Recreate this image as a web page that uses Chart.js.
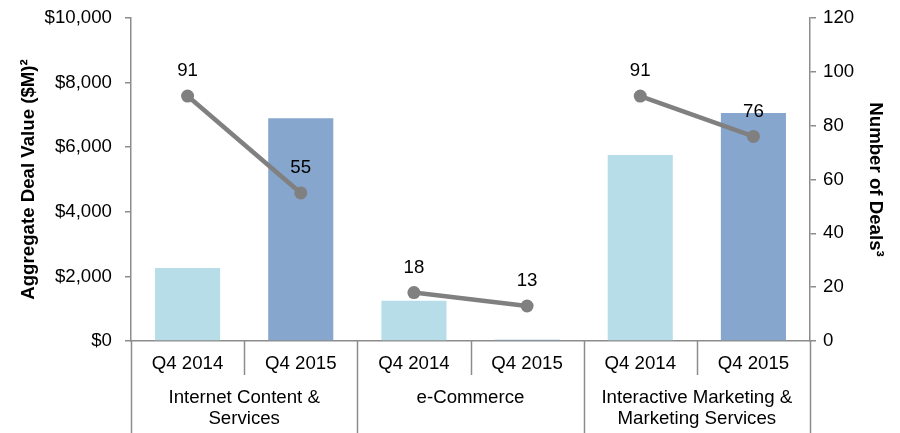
<!DOCTYPE html>
<html>
<head>
<meta charset="utf-8">
<script src="https://cdn.jsdelivr.net/npm/chart.js@4.4.1/dist/chart.umd.min.js"></script>
<style>
html,body{margin:0;padding:0;background:#fff;}
#wrap{width:900px;height:433px;position:relative;}
</style>
</head>
<body>
<div id="wrap"><canvas id="c" width="900" height="433"></canvas></div>
<script>
// ---- data ----
const categories = ['Q4 2014', 'Q4 2015', 'Q4 2014', 'Q4 2015', 'Q4 2014', 'Q4 2015'];
const groupLabels = [['Internet Content &', 'Services'], ['e-Commerce'], ['Interactive Marketing &', 'Marketing Services']];
const dealValue = [2260, 6900, 1250, 40, 5760, 7060];
const dealCount = [91, 55, 18, 13, 91, 76];
const leftTicks = [0, 2000, 4000, 6000, 8000, 10000];
const rightTicks = [0, 20, 40, 60, 80, 100, 120];

const FONT = '"Liberation Sans", Arial, sans-serif';
const FS = 18.67;
const lightBlue = '#B7DDE8';
const darkBlue = '#86A6CD';
const lineGray = '#808080';
const axisGray = '#8C8C8C';

const barColors = categories.map(c => c === 'Q4 2014' ? lightBlue : darkBlue);

const extras = {
  id: 'extras',
  afterDatasetsDraw(chart) {
    const ctx = chart.ctx;
    const x = chart.scales.x;
    const n = categories.length;
    const cw = (x.right - x.left) / n;
    const base = chart.chartArea.bottom;
    ctx.save();
    ctx.strokeStyle = axisGray;
    ctx.lineWidth = 1.5;
    for (let i = 0; i <= n; i++) {
      const xx = Math.round(x.left + i * cw) + 0.5;
      const y2 = (i % 2 === 0) ? chart.height : base + 34;
      ctx.beginPath();
      ctx.moveTo(xx, base);
      ctx.lineTo(xx, y2);
      ctx.stroke();
    }
    ctx.fillStyle = '#000';
    ctx.font = FS + 'px ' + FONT;
    ctx.textAlign = 'center';
    ctx.textBaseline = 'middle';
    groupLabels.forEach((lines, g) => {
      const cx = x.left + (2 * g + 1) * cw;
      lines.forEach((t, k) => ctx.fillText(t, cx, base + 57 + k * 21));
    });
    // data labels for the line
    const meta = chart.getDatasetMeta(1);
    meta.data.forEach((pt, i) => {
      ctx.fillText(String(dealCount[i]), pt.x, pt.y - 25);
    });
    ctx.restore();
  }
};

function fitY(w) {
  return s => { s.width = w; s.paddingTop = 0; s.paddingBottom = 0; };
}

new Chart(document.getElementById('c'), {
  data: {
    labels: categories,
    datasets: [
      {
        type: 'bar',
        data: dealValue,
        backgroundColor: barColors,
        yAxisID: 'y',
        barPercentage: 0.575,
        categoryPercentage: 1,
        order: 2
      },
      {
        type: 'line',
        data: dealCount,
        yAxisID: 'y1',
        borderColor: lineGray,
        borderWidth: 4.5,
        pointRadius: 6.5,
        pointBackgroundColor: lineGray,
        pointBorderWidth: 0,
        segment: {
          borderColor: c => (c.p0DataIndex % 2 === 1 ? 'rgba(0,0,0,0)' : lineGray)
        },
        order: 1
      }
    ]
  },
  options: {
    responsive: false,
    animation: false,
    layout: { padding: { left: 0, right: 0, top: 18, bottom: 0 } },
    plugins: { legend: { display: false }, tooltip: { enabled: false } },
    scales: {
      x: {
        offset: true,
        grid: { display: false, drawOnChartArea: false, drawTicks: false },
        border: { display: true, color: axisGray, width: 1.5 },
        ticks: { color: '#000', font: { family: FONT, size: FS }, padding: 12, maxRotation: 0, autoSkip: false },
        afterFit: s => { s.height = 92; s.paddingLeft = 0; s.paddingRight = 0; }
      },
      y: {
        position: 'left',
        min: 0, max: 10000,
        afterBuildTicks: s => { s.ticks = leftTicks.map(v => ({ value: v })); },
        grid: { drawOnChartArea: false, drawTicks: true, tickLength: 6, color: axisGray, lineWidth: 1.5 },
        border: { display: true, color: axisGray, width: 1.5 },
        ticks: {
          color: '#000', font: { family: FONT, size: FS }, padding: 13,
          callback: v => '$' + Number(v).toLocaleString('en-US')
        },
        title: {
          display: true, text: 'Aggregate Deal Value ($M)²', color: '#000',
          font: { family: FONT, size: FS, weight: 'bold' }, padding: { top: 18, bottom: 0 }
        },
        afterFit: fitY(131)
      },
      y1: {
        position: 'right',
        min: 0, max: 120,
        afterBuildTicks: s => { s.ticks = rightTicks.map(v => ({ value: v })); },
        grid: { drawOnChartArea: false, drawTicks: true, tickLength: 6, color: axisGray, lineWidth: 1.5 },
        border: { display: true, color: axisGray, width: 1.5 },
        ticks: { color: '#000', font: { family: FONT, size: FS }, padding: 7 },
        title: {
          display: true, text: 'Number of Deals³', color: '#000',
          font: { family: FONT, size: FS, weight: 'bold' }, padding: { top: 14, bottom: 0 }
        },
        afterFit: fitY(90)
      }
    }
  },
  plugins: [extras]
});
</script>
</body>
</html>
